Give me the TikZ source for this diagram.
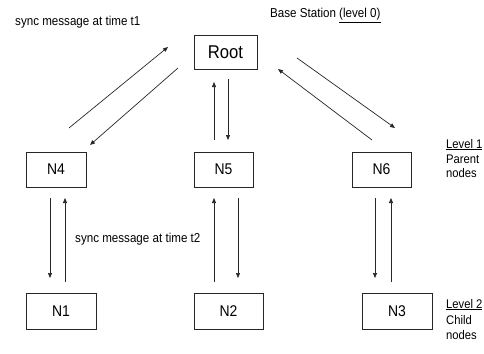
\documentclass[tikz,border=0pt]{standalone}
\usepackage{fontspec}
\setmainfont{Liberation Sans}[FakeStretch=0.9]
\usetikzlibrary{arrows.meta}
\begin{document}
\begin{tikzpicture}[x=1pt,y=-1pt,
  box/.style={draw=black!85, line width=0.7pt, minimum width=#1, minimum height=35pt, inner sep=0pt},
  lbl/.style={anchor=base west, inner sep=0pt, font=\fontsize{12.9}{15}\selectfont},
  lvl/.style={anchor=base west, inner sep=0pt, font=\fontsize{12.5}{14}\selectfont},
  arr/.style={draw=black!85, line width=0.7pt, -{Triangle[length=5pt,width=4pt]}}]
\useasboundingbox (0,0) rectangle (484,353);
\fill[white] (0,0) rectangle (484,353);
% nodes
\node[box=63pt, minimum height=34pt, font=\fontsize{18.5}{22}\selectfont] (root) at (225.5,52) {Root};
\node[box=60pt, font=\fontsize{15.5}{18}\selectfont] (n4) at (56,169.5) {N4};
\node[box=59pt, font=\fontsize{15.5}{18}\selectfont] (n5) at (223.5,169.5) {N5};
\node[box=59pt, font=\fontsize{15.5}{18}\selectfont] (n6) at (381.5,169.5) {N6};
\node[box=70pt, minimum height=36pt, font=\fontsize{15.5}{18}\selectfont] (n1) at (61,311) {N1};
\node[box=69pt, minimum height=36pt, font=\fontsize{15.5}{18}\selectfont] (n2) at (228.5,311) {N2};
\node[box=70pt, minimum height=36pt, font=\fontsize{15.5}{18}\selectfont] (n3) at (397,311) {N3};
% labels
\node[lbl] (t1) at (15,26) {sync message at time t1};
\node[lbl] (t2) at (75,242) {sync message at time t2};
\node[lbl] (bs) at (270,18) {Base Station \underline{(level 0)}};
\node[lvl] (l1a) at (446,148) {\underline{Level 1}};
\node[lvl] (l1b) at (446,163) {Parent};
\node[lvl] (l1c) at (446,177) {nodes};
\node[lvl] (l2a) at (446,308) {\underline{Level 2}};
\node[lvl] (l2b) at (446,324) {Child};
\node[lvl] (l2c) at (446,339) {nodes};
% arrow end points
\coordinate (a1s) at (69,128);  \coordinate (a1e) at (168,47);
\coordinate (a2s) at (178,68);  \coordinate (a2e) at (90,145);
\coordinate (a3s) at (214,140); \coordinate (a3e) at (214,82);
\coordinate (a4s) at (228,79);  \coordinate (a4e) at (228,140);
\coordinate (a5s) at (297,58);  \coordinate (a5e) at (395,128);
\coordinate (a6s) at (372,140); \coordinate (a6e) at (278,69);
\coordinate (b1s) at (50,198);  \coordinate (b1e) at (50,278);
\coordinate (b2s) at (65,282);  \coordinate (b2e) at (65,198);
\coordinate (b3s) at (214,282); \coordinate (b3e) at (214,198);
\coordinate (b4s) at (238,198); \coordinate (b4e) at (238,278);
\coordinate (b5s) at (375,198); \coordinate (b5e) at (375,278);
\coordinate (b6s) at (391,282); \coordinate (b6e) at (391,198);
% arrows
\foreach \a in {a1,a2,a3,a4,a5,a6,b1,b2,b3,b4,b5,b6}
  \draw[arr] (\a s) -- (\a e);
\end{tikzpicture}
\end{document}
